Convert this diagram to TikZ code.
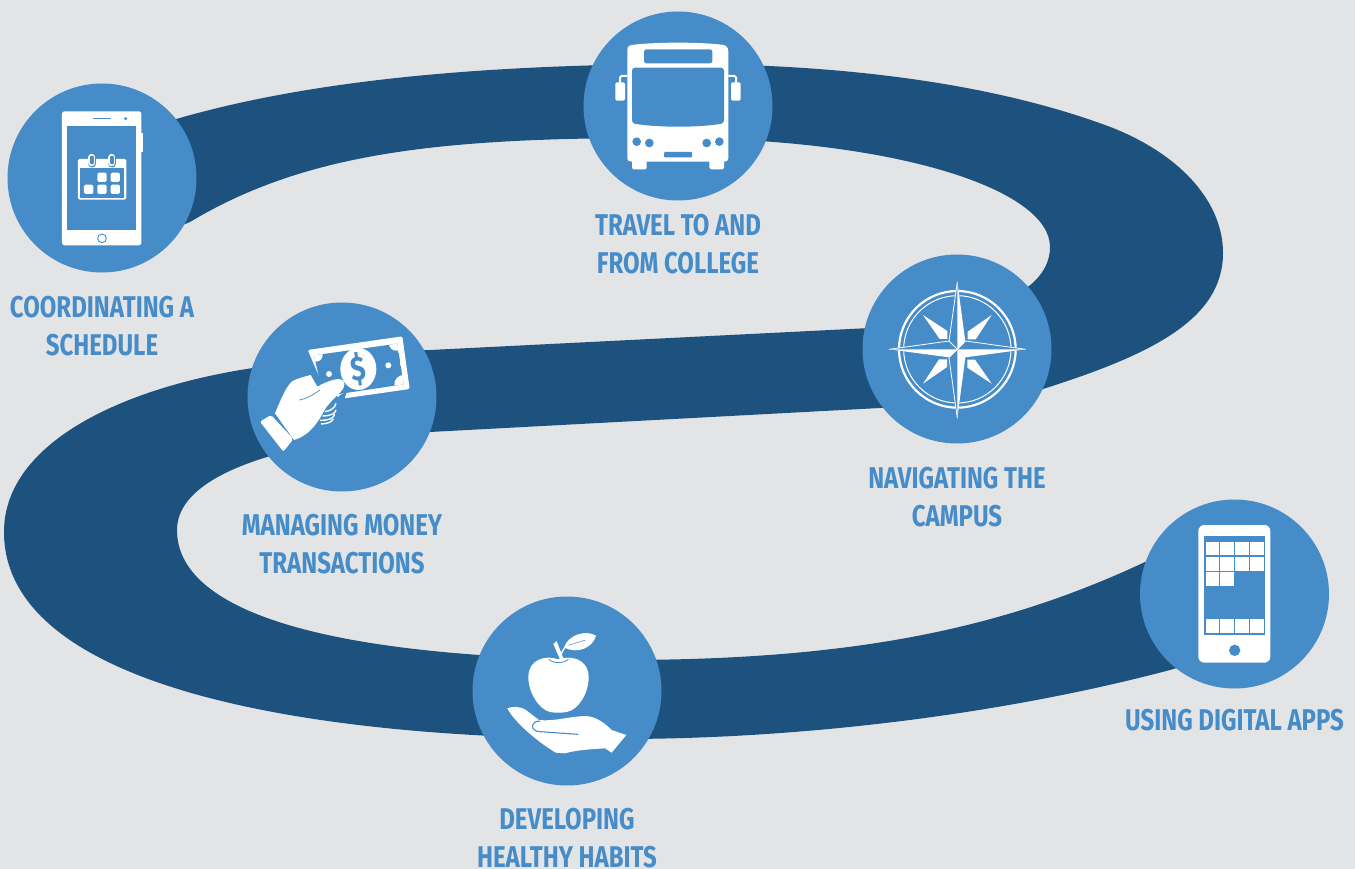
\documentclass[tikz,border=0pt]{standalone}
\usepackage{fontspec}
\newfontfamily\stopfont[FakeStretch=0.8]{Fira Sans}
\definecolor{pagegray}{HTML}{E3E4E6}
\definecolor{roaddark}{HTML}{1C527D}
\definecolor{stopblue}{HTML}{468CC8}

\tikzset{
    stopdisc/.style={circle,fill=stopblue,minimum size=189pt,inner sep=0pt},
    stoptext/.style={font={\fontsize{30}{38}\selectfont\stopfont\bfseries},text=stopblue,align=center,inner sep=0pt},
    icon/.style={fill=white,draw=none},
    hole/.style={fill=stopblue,draw=none}
}

\begin{document}
\begin{tikzpicture}[x=1pt,y=-1pt]
\useasboundingbox[fill=pagegray](0,0) rectangle (1355,869);

% road
\fill[roaddark] (150,127) .. controls (280,85) and (450,65) .. (680,64) .. controls (850,64) and (1000,85) .. (1113,128) .. controls (1185,157) and (1223,205) .. (1223,253) .. controls (1223,320) and (1150,355) .. (1043,389) .. controls (1000,402) and (950,404) .. (880,408) -- (430,432) .. controls (320,437) and (177,465) .. (177,530) .. controls (177,610) and (320,658) .. (620,660) .. controls (850,660) and (1000,630) .. (1145,562) -- (1240,520) -- (1240,650) -- (1170,670) .. controls (1000,715) and (800,739) .. (620,739) .. controls (280,739) and (4,680) .. (4,532) .. controls (4,440) and (130,385) .. (260,367) .. controls (290,360) and (350,352) .. (430,350) -- (870,328) .. controls (960,322) and (1050,300) .. (1050,247) .. controls (1050,190) and (900,140) .. (680,138) .. controls (450,137) and (310,150) .. (190,222) -- (120,250) -- cycle;

% stops
\node[stopdisc] (schedule) at (102,178) {};
\node[stopdisc] (bus) at (678,106) {};
\node[stopdisc] (money) at (342,397) {};
\node[stopdisc] (campus) at (957,349) {};
\node[stopdisc] (habits) at (567,691) {};
\node[stopdisc] (apps) at (1234.5,594) {};

\node[stoptext] (schedulelabel) at (102,326) {COORDINATING A\\SCHEDULE};
\node[stoptext] (buslabel) at (678,244.5) {TRAVEL TO AND\\FROM COLLEGE};
\node[stoptext] (moneylabel) at (342,544) {MANAGING MONEY\\TRANSACTIONS};
\node[stoptext] (campuslabel) at (957,497) {NAVIGATING THE\\CAMPUS};
\node[stoptext] (habitslabel) at (567,838.5) {DEVELOPING\\HEALTHY HABITS};
\node[stoptext] (appslabel) at (1234.5,720) {USING DIGITAL APPS};

% calendar phone
\begin{scope}[shift={(0,70)},scale=1/3]
\fill[icon] (424,188) rectangle (428,245);
\fill[icon,rounded corners=2.5pt] (186,124) rectangle (424,526);
\fill[hole] (202,168) rectangle (409,481);
\draw[stopblue,line width=1.2pt,line cap=round] (281,146) -- (331,146);
\fill[hole] (377,146) circle(5);
\draw[stopblue,line width=0.9pt,fill=white] (306,505) circle(13);
\fill[icon,rounded corners=1.5pt] (234,267) rectangle (379,389);
\fill[hole] (240,295) rectangle (373,383);
\foreach \px in {276,336}{
    \draw[stopblue,line width=8.4pt,line cap=round] (\px,262) -- (\px,280);
    \draw[white,line width=7pt,line cap=round] (\px,262) -- (\px,278);
    \draw[stopblue,line width=3.4pt,line cap=round] (\px,262) -- (\px,278);
}
\foreach \px/\py in {306/322,346/322,266/358,306/358,346/358}
    \fill[icon,rounded corners=1.5pt] (\px-14,\py-14) rectangle (\px+14,\py+14);
\end{scope}

% bus
\begin{scope}[shift={(575,5)},scale=1/3]
\fill[icon] (157,135) .. controls (157,122) and (165,120) .. (178,119) .. controls (250,111) and (370,111) .. (440,119) .. controls (452,120) and (460,125) .. (460,140) -- (460,460) .. controls (460,467) and (455,470) .. (448,470) -- (170,470) .. controls (162,470) and (157,467) .. (157,460) -- cycle;
\fill[icon,rounded corners=1.5pt] (171,465) rectangle (215,493);
\fill[icon,rounded corners=1.5pt] (403,465) rectangle (447,493);
\fill[hole,rounded corners=2.5pt] (207,133) rectangle (412,175);
\fill[hole,rounded corners=3pt] (171,188) -- (447,188) -- (447,355) .. controls (370,368) and (250,368) .. (171,355) -- cycle;
\fill[icon,rounded corners=1.5pt] (121,232) rectangle (150,287);
\fill[icon,rounded corners=1.5pt] (468,232) rectangle (497,287);
\draw[white,line width=2pt,rounded corners=1.5pt] (135,235) -- (135,213) -- (157,213);
\draw[white,line width=2pt,rounded corners=1.5pt] (483,235) -- (483,213) -- (460,213);
\foreach \px/\py in {185/410,223/414,395/414,433/410}
    \fill[hole] (\px,\py) circle(13);
\fill[hole,rounded corners=1pt] (267,441) rectangle (351,457);
\end{scope}

% hand with bank note
\begin{scope}[shift={(240,295)},scale=1/3]
\fill[icon,rounded corners=1.5pt] (203,165) -- (487,124) -- (509,282) -- (300,312) -- (240,250) -- cycle;
\begin{scope}
\clip (222,181) -- (472,146) -- (491,268) -- (250,304) -- cycle;
\fill[hole] (222,181) -- (472,146) -- (491,268) -- (250,304) -- cycle;
\foreach \px/\py/\pr in {228/180/20,468/146/21,491/268/28}
    \fill[icon] (\px,\py) circle(\pr);
\end{scope}
\fill[icon] (355,222) ellipse(54 and 63);
\node[text=stopblue,font={\fontsize{34}{34}\selectfont\stopfont\bfseries},inner sep=0pt,rotate=8] (dollar) at (356,222) {\$};
\fill[icon] (267,237) circle(9);
\fill[icon] (445,211) circle(9);
\fill[stopblue] (300,300) -- (320,290) -- (300,360) -- (270,400) -- (240,380) -- cycle;
\fill[icon] (105,355) .. controls (120,320) and (135,280) .. (155,260) .. controls (175,248) and (195,245) .. (212,240) -- (232,275) .. controls (250,265) and (270,255) .. (295,252) .. controls (310,252) and (318,264) .. (310,280) .. controls (298,298) and (275,315) .. (258,338) .. controls (240,370) and (215,420) .. (162,435) -- cycle;
\draw[white,line width=1.4pt] (288,325) .. controls (285,340) and (270,348) .. (255,350);
\draw[white,line width=1.4pt] (288,345) .. controls (285,358) and (270,362) .. (248,363);
\draw[white,line width=1.4pt] (284,358) .. controls (280,372) and (265,376) .. (240,376);
\draw[white,line width=1.4pt] (280,372) .. controls (275,382) and (262,386) .. (243,387);
\draw[stopblue,line width=0.7pt] (178,315) .. controls (205,310) and (225,295) .. (240,285);
\fill[icon,rounded corners=2pt] (60,380) -- (93,360) -- (160,432) -- (130,470) -- cycle;
\end{scope}

% compass
\begin{scope}[shift={(855,250)},scale=1/3]
\draw[white,line width=2.2pt] (307,298) circle(175);
\draw[white,line width=1pt] (307,298) circle(161);
\foreach \ang in {45,135,225,315}
    \fill[icon,rotate around={\ang-45:(307,298)}] (410,195) -- (338,245) -- (338,268) -- (362,268) -- cycle;
\fill[hole] (307,95) -- (332,273) -- (512,298) -- (332,323) -- (307,505) -- (282,323) -- (102,298) -- (282,273) -- cycle;
\fill[icon] (307,95) -- (331,275) -- (307,298) -- cycle;
\fill[icon] (512,298) -- (331,322) -- (307,298) -- cycle;
\fill[icon] (307,505) -- (331,322) -- (307,298) -- cycle;
\fill[icon] (102,298) -- (282,322) -- (307,298) -- cycle;
\draw[white,line width=0.8pt,line join=round] (307,95) -- (282,273) -- (102,298);
\draw[white,line width=0.8pt,line join=round] (512,298) -- (332,273) -- (307,298) -- (282,273);
\draw[white,line width=0.8pt,line join=round] (307,505) -- (282,323) -- (307,298);
\end{scope}

% apple on hand
\begin{scope}[shift={(465,590)},scale=1/3]
\fill[icon] (280,208) .. controls (245,195) and (190,205) .. (190,262) .. controls (190,310) and (225,360) .. (255,366) .. controls (270,369) and (290,369) .. (305,366) .. controls (340,360) and (371,310) .. (371,262) .. controls (371,205) and (315,195) .. (280,208) -- cycle;
\fill[icon] (265,162) -- (275,153) -- (295,205) -- (285,208) -- cycle;
\draw[white,line width=1.4pt] (288,205) .. controls (288,190) and (292,180) .. (300,172);
\fill[icon] (297,172) .. controls (310,135) and (360,118) .. (393,137) .. controls (385,170) and (340,195) .. (297,172) -- cycle;
\draw[stopblue,line width=0.5pt] (310,166) .. controls (330,160) and (345,155) .. (362,150);
\draw[stopblue,line width=0.8pt] (252,208) .. controls (262,220) and (295,222) .. (310,208);
\fill[icon] (127,355) .. controls (145,348) and (165,350) .. (180,358) -- (222,390) .. controls (265,395) and (310,380) .. (360,378) .. controls (395,378) and (425,405) .. (440,420) -- (484,435) -- (440,488) -- (420,475) .. controls (375,478) and (335,480) .. (300,490) -- (272,488) .. controls (225,460) and (150,400) .. (127,355) -- cycle;
\draw[stopblue,line width=1.1pt] (340,433) -- (225,425) .. controls (195,425) and (195,393) .. (225,393);
\end{scope}

% apps phone
\begin{scope}[shift={(1135,495)},scale=1/3]
\fill[icon,rounded corners=6pt] (190,90) rectangle (406,503);
\fill[hole] (208,122) rectangle (389,420);
\foreach \py in {140,186,372}
    \foreach \px in {212,256,301,345}
        \fill[icon] (\px,\py) rectangle (\px+41,\py+41);
\foreach \px in {212,256}
    \fill[icon] (\px,232) rectangle (\px+41,273);
\fill[hole] (299,466) circle(17);
\end{scope}

\end{tikzpicture}
\end{document}
